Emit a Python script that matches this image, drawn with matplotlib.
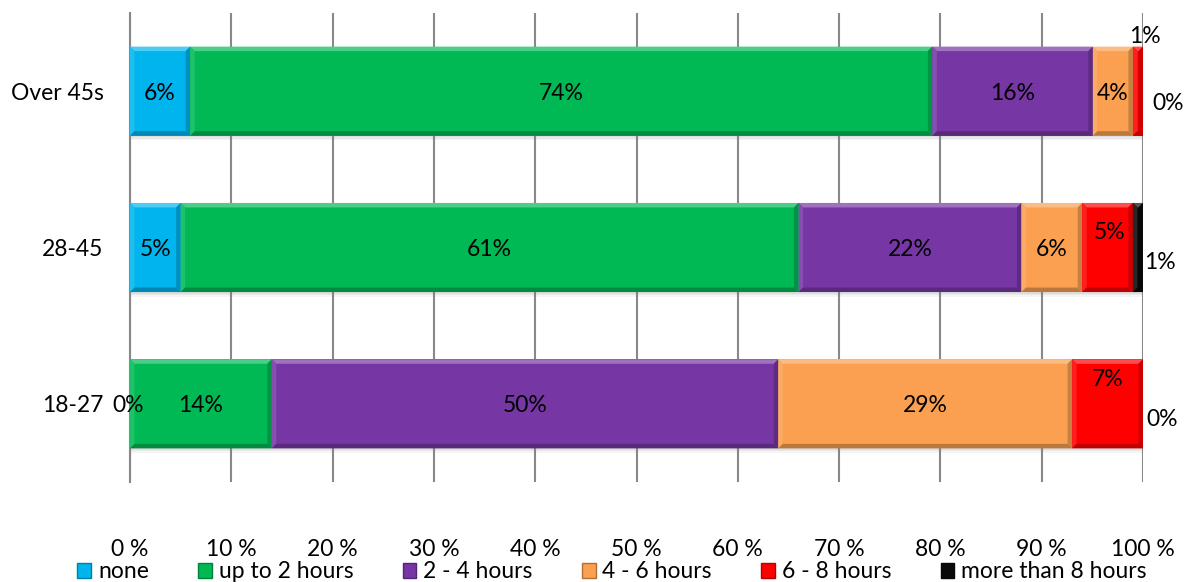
import numpy as np
import matplotlib.pyplot as plt
from matplotlib.patches import Polygon, Rectangle
from matplotlib.colors import to_rgb

plt.rcParams['font.family'] = ['Lato', 'DejaVu Sans']

groups = ['18-27', '28-45', 'Over 45s']
series = ['none', 'up to 2 hours', '2 - 4 hours', '4 - 6 hours',
          '6 - 8 hours', 'more than 8 hours']
colors = ['#00B4EE', '#00B955', '#7636A4', '#FAA050', '#FF0000', '#0A0A0A']

none_ = [0, 5, 6]
upto2 = [14, 61, 74]
h2_4 = [50, 22, 16]
h4_6 = [29, 6, 4]
h6_8 = [7, 5, 1]
over8 = [0, 1, 0]
xticks = np.arange(0, 101, 10)

vals = np.array([none_, upto2, h2_4, h4_6, h6_8, over8], dtype=float)
pct = vals / vals.sum(axis=0) * 100          # 100% stacked
left = np.vstack([np.zeros(3), np.cumsum(pct, axis=0)[:-1]])

# nudges (pixels) for the labels of thin segments
label_nudge = {(2, 4): (7, 55), (2, 5): (25, -12),
               (1, 4): (2, 15), (1, 5): (22, -15),
               (0, 0): (-2, -2), (0, 4): (0, 24), (0, 5): (19, -16)}

FS = 16.5
W, H = 1187, 582
fig = plt.figure(figsize=(W / 100, H / 100), dpi=100)
ax = fig.add_axes([130 / W, 1 - 482 / H, 1013 / W, 469 / H])
ax.set_xlim(0, 100)
ax.set_ylim(-0.5, 2.5)
y = np.arange(3)
bh = 0.57

# data units per pixel, for bevel and shadow
px = 100 / 1013
py = 3 / 469


def mix(c, other, t):
    c = np.array(to_rgb(c))
    return tuple(c * (1 - t) + np.array(other) * t)


def bevel(x0, y0, w, h, c, z=3, b=4.5):
    bx = min(b * px, w / 2)
    by = min(b * py, h / 2)
    x1, y1 = x0 + w, y0 + h
    ax.add_patch(Rectangle((x0, y0), w, h, fc=c, ec='none', zorder=z))
    top = [(x0, y1), (x1, y1), (x1 - bx, y1 - by), (x0 + bx, y1 - by)]
    bot = [(x0, y0), (x1, y0), (x1 - bx, y0 + by), (x0 + bx, y0 + by)]
    lft = [(x0, y0), (x0, y1), (x0 + bx, y1 - by), (x0 + bx, y0 + by)]
    rgt = [(x1, y0), (x1, y1), (x1 - bx, y1 - by), (x1 - bx, y0 + by)]
    for pts, col in [(top, mix(c, (1, 1, 1), 0.3)),
                     (lft, mix(c, (1, 1, 1), 0.12)),
                     (rgt, mix(c, (0, 0, 0), 0.2)),
                     (bot, mix(c, (0, 0, 0), 0.25))]:
        ax.add_patch(Polygon(pts, closed=True, fc=col, ec='none', zorder=z + 0.1))


for gi in range(3):
    # soft drop shadow under each bar
    for k, a in enumerate([0.10, 0.10, 0.08]):
        ax.add_patch(Rectangle((0 + px, y[gi] - bh / 2 - (k + 1) * 1.5 * py),
                               100, bh, fc='gray', alpha=a, ec='none', zorder=2))
    for si in range(6):
        w = pct[si, gi]
        if w > 0:
            bevel(left[si, gi], y[gi] - bh / 2, w, bh, colors[si])
        dx, dy = label_nudge.get((gi, si), (0, -2))
        ax.annotate('%d%%' % vals[si, gi], (left[si, gi] + w / 2, y[gi]),
                    xytext=(dx, dy), textcoords='offset pixels',
                    ha='center', va='center', fontsize=FS, color='black',
                    zorder=6)

ax.set_xticks(xticks)
ax.set_xticklabels(['%d %%' % t for t in xticks])
ax.set_yticks(y)
ax.set_yticklabels(groups)
ax.tick_params(axis='x', length=0, pad=41, labelsize=FS)
ax.tick_params(axis='y', length=0, pad=19, labelsize=FS)
ax.grid(axis='x', color='#888888', lw=1.5, zorder=1)
ax.set_axisbelow(True)
for s in ['top', 'right', 'bottom']:
    ax.spines[s].set_visible(False)
ax.spines['left'].set_color('#888888')
ax.spines['left'].set_linewidth(1.5)

handles = [Rectangle((0, 0), 1, 1, fc=c, ec=mix(c, (0, 0, 0), 0.3), lw=1)
           for c in colors]
fig.legend(handles, series, loc='center', bbox_to_anchor=(612 / W, 1 - 572 / H),
           ncol=6, frameon=False, fontsize=FS, handlelength=0.6,
           handleheight=0.6, handletextpad=0.3, columnspacing=2.15)

fig.savefig('out.png', dpi=100)
